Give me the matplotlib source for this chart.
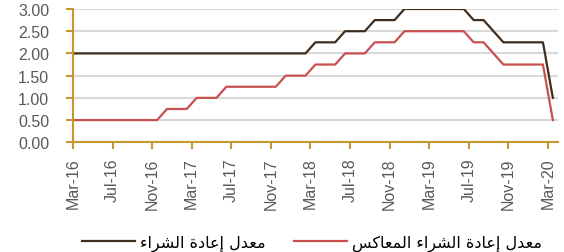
import numpy as np
import matplotlib
matplotlib.use('Agg')
import matplotlib.pyplot as plt

# الأشهر من مارس 2016 إلى مارس 2020
months = ['Mar-16', 'Apr-16', 'May-16', 'Jun-16', 'Jul-16', 'Aug-16', 'Sep-16', 'Oct-16',
          'Nov-16', 'Dec-16', 'Jan-17', 'Feb-17', 'Mar-17', 'Apr-17', 'May-17', 'Jun-17',
          'Jul-17', 'Aug-17', 'Sep-17', 'Oct-17', 'Nov-17', 'Dec-17', 'Jan-18', 'Feb-18',
          'Mar-18', 'Apr-18', 'May-18', 'Jun-18', 'Jul-18', 'Aug-18', 'Sep-18', 'Oct-18',
          'Nov-18', 'Dec-18', 'Jan-19', 'Feb-19', 'Mar-19', 'Apr-19', 'May-19', 'Jun-19',
          'Jul-19', 'Aug-19', 'Sep-19', 'Oct-19', 'Nov-19', 'Dec-19', 'Jan-20', 'Feb-20',
          'Mar-20']

# معدل إعادة الشراء
repo = [2.00, 2.00, 2.00, 2.00, 2.00, 2.00, 2.00, 2.00, 2.00, 2.00, 2.00, 2.00,
        2.00, 2.00, 2.00, 2.00, 2.00, 2.00, 2.00, 2.00, 2.00, 2.00, 2.00, 2.00,
        2.25, 2.25, 2.25, 2.50, 2.50, 2.50, 2.75, 2.75, 2.75, 3.00, 3.00, 3.00,
        3.00, 3.00, 3.00, 3.00, 2.75, 2.75, 2.50, 2.25, 2.25, 2.25, 2.25, 2.25,
        1.00]

# معدل إعادة الشراء المعاكس
reverse_repo = [0.50, 0.50, 0.50, 0.50, 0.50, 0.50, 0.50, 0.50, 0.50, 0.75, 0.75, 0.75,
                1.00, 1.00, 1.00, 1.25, 1.25, 1.25, 1.25, 1.25, 1.25, 1.50, 1.50, 1.50,
                1.75, 1.75, 1.75, 2.00, 2.00, 2.00, 2.25, 2.25, 2.25, 2.50, 2.50, 2.50,
                2.50, 2.50, 2.50, 2.50, 2.25, 2.25, 2.00, 1.75, 1.75, 1.75, 1.75, 1.75,
                0.50]

label_repo = 'معدل إعادة الشراء'
label_reverse = 'معدل إعادة الشراء المعاكس'


def shape_arabic(text):
    # matplotlib لا يدعم تشكيل الحروف العربية، لذا نستخدم أشكال العرض يدوياً
    forms = {
        'م': ('\uFEE1', '\uFEE2', '\uFEE3', '\uFEE4'),
        'ع': ('\uFEC9', '\uFECA', '\uFECB', '\uFECC'),
        'ل': ('\uFEDD', '\uFEDE', '\uFEDF', '\uFEE0'),
        'ش': ('\uFEB5', '\uFEB6', '\uFEB7', '\uFEB8'),
        'ك': ('\uFED9', '\uFEDA', '\uFEDB', '\uFEDC'),
        'س': ('\uFEB1', '\uFEB2', '\uFEB3', '\uFEB4'),
        'د': ('\uFEA9', '\uFEAA', None, None),
        'إ': ('\uFE87', '\uFE88', None, None),
        'ا': ('\uFE8D', '\uFE8E', None, None),
        'ة': ('\uFE93', '\uFE94', None, None),
        'ر': ('\uFEAD', '\uFEAE', None, None),
        'ء': ('\uFE80', None, None, None),
    }
    out = []
    for i, c in enumerate(text):
        if c not in forms:
            out.append(c)
            continue
        prev = text[i - 1] if i > 0 else ''
        nxt = text[i + 1] if i + 1 < len(text) else ''
        f = forms[c]
        join_prev = prev in forms and forms[prev][2] is not None and f[1] is not None
        join_next = f[2] is not None and nxt in forms and forms[nxt][1] is not None
        if join_prev and join_next:
            out.append(f[3])
        elif join_prev:
            out.append(f[1])
        elif join_next:
            out.append(f[2])
        else:
            out.append(f[0])
    return ''.join(reversed(out))


gold = '#C8962E'
# كل قيمة في منتصف الشهر، والخط يبدأ من بداية مارس 2016
x = np.concatenate([[0], np.arange(len(months)) + 0.5])

fig = plt.figure(figsize=(5.64, 2.53), dpi=100)
ax = fig.add_axes([0.1294, 0.4336, 0.8596, 0.5269])

ax.plot(x, [repo[0]] + repo, color='#3F2E1E', linewidth=1.6,
        label=shape_arabic(label_repo))
ax.plot(x, [reverse_repo[0]] + reverse_repo, color='#C9504F', linewidth=1.6,
        label=shape_arabic(label_reverse))

ax.set_xlim(0, len(months))
ax.set_ylim(0, 3)
ax.set_yticks(np.arange(0, 3.01, 0.5))
ax.set_yticklabels(['%.2f' % v for v in np.arange(0, 3.01, 0.5)])
ax.set_xticks(np.arange(0, len(months), 4))
ax.set_xticklabels(months[::4], rotation=90)

ax.grid(axis='y', color='#D9D9D9', linewidth=1.5)
ax.set_axisbelow(True)
for s in ['top', 'right']:
    ax.spines[s].set_visible(False)
for s in ['left', 'bottom']:
    ax.spines[s].set_color(gold)
    ax.spines[s].set_linewidth(1.5)

ax.tick_params(axis='y', colors=gold, length=5, width=1.5, pad=12,
               labelcolor='#595959', labelsize=11.5)
ax.tick_params(axis='x', colors=gold, length=5, width=1.5, pad=6,
               labelcolor='#595959', labelsize=11.5)
for t in ax.get_xticklabels() + ax.get_yticklabels():
    t.set_fontfamily('Liberation Sans')

fig.legend(loc='center', bbox_to_anchor=(312 / 564, 1 - 244 / 253), ncol=2,
           frameon=False, handlelength=3.3, columnspacing=1.8, handletextpad=0.3,
           prop={'family': 'DejaVu Sans', 'size': 11.5})

fig.savefig('out.png', dpi=100)
